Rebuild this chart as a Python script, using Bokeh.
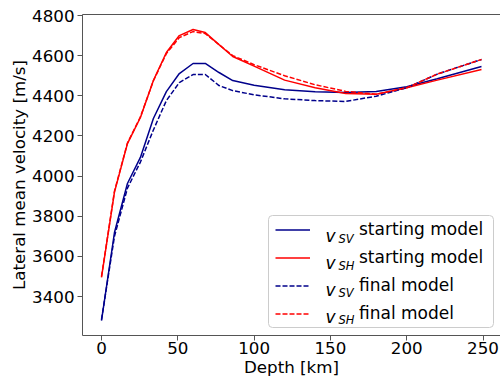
from bokeh.plotting import figure
from bokeh.models import Legend, LegendItem, Label, FixedTicker, LinearAxis, Range1d, BoxAnnotation
from bokeh.embed import file_html
from bokeh.resources import INLINE
from bokeh.core.properties import value

depth = [0, 8.5, 17, 25.5, 34, 42.5, 51, 60, 68, 77, 86, 100, 120, 140, 160, 180, 200, 220, 249]
vsv_start = [3280, 3719, 3963, 4093, 4287, 4421, 4511, 4561, 4561, 4516, 4476, 4453, 4430, 4420, 4416, 4422, 4445, 4485, 4546]
vsh_start = [3495, 3920, 4162, 4292, 4476, 4616, 4700, 4730, 4715, 4655, 4596, 4548, 4478, 4440, 4412, 4408, 4440, 4478, 4531]
vsv_final = [3285, 3700, 3940, 4070, 4230, 4376, 4466, 4506, 4506, 4451, 4426, 4405, 4385, 4376, 4372, 4398, 4440, 4508, 4581]
vsh_final = [3500, 3925, 4165, 4295, 4475, 4610, 4690, 4720, 4710, 4655, 4600, 4555, 4500, 4455, 4422, 4408, 4440, 4508, 4581]

x_ticks = [0, 50, 100, 150, 200, 250]
y_ticks = [3400, 3600, 3800, 4000, 4200, 4400, 4600, 4800]
series_names = ["starting model", "starting model", "final model", "final model"]
series_subs = ["SV", "SH", "SV", "SH"]

BLUE = "#00008b"
RED = "#ff0000"
AX = "#555555"
FONT = "DejaVu Sans"
FS = "16.7px"

p = figure(width=500, height=382, output_backend="svg", toolbar_location=None,
           x_range=Range1d(-12.45, 261.45), y_range=Range1d(3206, 4805),
           min_border_left=82, min_border_right=0, min_border_top=14, min_border_bottom=47)
p.outline_line_color = None
p.xgrid.visible = False
p.ygrid.visible = False

r1 = p.line(depth, vsv_start, line_color=BLUE, line_width=1.5)
r2 = p.line(depth, vsh_start, line_color=RED, line_width=1.5)
r3 = p.line(depth, vsv_final, line_color=BLUE, line_width=1.5, line_dash="5 2")
r4 = p.line(depth, vsh_final, line_color=RED, line_width=1.5, line_dash="5 2")

for ax in (p.xaxis[0], p.yaxis[0]):
    ax.axis_line_color = AX
    ax.major_tick_line_color = AX
    ax.minor_tick_line_color = None
    ax.major_tick_out = 5
    ax.major_tick_in = 0
    ax.major_label_text_font = FONT
    ax.major_label_text_font_size = FS
    ax.major_label_text_color = "black"
    ax.axis_label_text_font = FONT
    ax.axis_label_text_font_size = FS
    ax.axis_label_text_font_style = "normal"
    ax.axis_label_text_color = "black"

p.xaxis[0].ticker = FixedTicker(ticks=x_ticks)
p.yaxis[0].ticker = FixedTicker(ticks=y_ticks)
p.xaxis[0].axis_label = "Depth [km]"
p.yaxis[0].axis_label = "Lateral mean velocity [m/s]"
p.xaxis[0].major_label_standoff = 1
p.xaxis[0].axis_label_standoff = 0
p.yaxis[0].major_label_standoff = 3
p.yaxis[0].axis_label_standoff = 0

top = LinearAxis(ticker=FixedTicker(ticks=[]), major_tick_out=0, major_tick_in=0,
                 minor_tick_out=0, minor_tick_in=0, major_label_text_font_size="0px",
                 major_label_standoff=0, axis_line_color=AX)
p.add_layout(top, "above")

# legend frame (drawn separately so the math-style labels sit on top of it)
frame_box = BoxAnnotation(left=186, right=411, bottom=8, top=120,
                          left_units="screen", right_units="screen",
                          bottom_units="screen", top_units="screen",
                          fill_color="white", fill_alpha=0.8,
                          line_color="#cccccc", line_alpha=1.0, line_width=1,
                          border_radius=4, level="annotation")
p.add_layout(frame_box)

renderers = [r1, r2, r3, r4]
items = [LegendItem(label=value(n), renderers=[r]) for n, r in zip(series_names, renderers)]
legend = Legend(items=items, location=(193, 12), padding=7, spacing=8,
                glyph_width=35, glyph_height=19, label_height=19, label_standoff=49,
                label_text_font=FONT, label_text_font_size="17px", label_text_color="black",
                border_line_color=None, background_fill_alpha=0.0, margin=0)
p.add_layout(legend)

for i, sub in enumerate(series_subs):
    center = 105.5 - 27 * i
    p.add_layout(Label(x=243, y=center - 6, x_units="screen", y_units="screen", text="v",
                       text_font=FONT, text_font_size="17px", text_font_style="italic",
                       text_baseline="alphabetic", text_color="black", level="overlay"))
    p.add_layout(Label(x=256, y=center - 9, x_units="screen", y_units="screen", text=sub,
                       text_font=FONT, text_font_size="11.5px", text_font_style="italic",
                       text_baseline="alphabetic", text_color="black", level="overlay"))

open("out.html", "w").write(file_html(p, INLINE))
